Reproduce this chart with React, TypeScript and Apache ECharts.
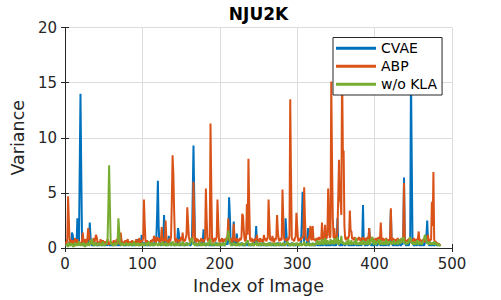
import React, { useEffect, useRef } from "react";
import * as echarts from "echarts";

const seriesNames = ["CVAE", "ABP", "w/o KLA"];
const xTicks = [0, 100, 200, 300, 400, 500];
const yTicks = [0, 5, 10, 15, 20];

// CVAE variance per image (index 1..485)
const cvae = [
  0.5,0.3,0.2,0.4,0.3,0.6,0.2,0.3,1.4,1.2,0.3,0.2,0.4,0.3,0.5,2.7,0.6,0.3,7.0,14.0,
  7.0,0.8,0.3,0.2,0.4,0.3,0.2,0.5,0.3,0.4,0.6,2.3,1.0,0.3,0.2,0.4,0.3,0.2,0.3,0.5,
  0.3,0.2,0.4,0.3,0.2,0.5,0.3,0.2,0.3,0.4,0.2,0.3,0.5,0.2,0.3,0.4,0.3,0.2,0.4,0.3,
  0.2,0.3,0.4,0.2,0.3,0.5,0.3,0.2,0.4,0.3,0.2,0.3,0.4,0.6,0.3,0.2,0.4,0.3,0.2,0.3,
  0.4,0.3,0.2,0.3,0.5,0.3,0.2,0.4,0.3,0.2,0.3,0.4,0.5,0.8,0.3,0.2,0.4,0.3,1.2,0.4,
  0.3,0.5,0.3,0.2,0.4,0.3,0.2,0.3,0.4,0.2,0.3,0.5,0.3,0.2,0.4,0.6,0.3,0.8,3.0,6.1,
  2.0,0.4,0.3,0.2,0.5,0.3,0.8,3.0,0.6,0.3,0.2,0.4,0.3,1.1,0.4,0.3,0.2,0.5,0.3,0.4,
  0.3,0.2,0.4,0.3,0.6,1.8,1.4,0.3,0.2,0.4,0.3,0.5,0.3,0.2,0.4,0.3,0.2,0.5,0.3,0.4,
  0.3,0.2,0.4,0.6,4.7,9.3,4.7,0.5,0.3,0.2,0.4,0.3,0.2,0.3,0.5,0.3,0.2,0.6,1.7,0.4,
  0.3,0.2,0.4,0.3,0.5,0.3,0.2,0.4,0.3,0.2,0.3,0.4,0.2,0.3,0.5,0.3,0.2,0.4,0.3,0.2,
  0.3,0.4,0.2,0.6,0.3,0.2,0.4,0.3,0.5,0.3,0.8,4.6,3.0,0.4,0.3,0.2,0.5,2.4,0.4,0.3,
  0.2,1.3,0.4,0.3,0.2,0.4,0.3,0.5,0.3,0.2,0.4,0.3,0.2,0.3,0.5,0.3,0.2,0.4,0.3,0.2,
  0.3,0.4,0.2,0.3,0.5,0.6,2.0,0.4,0.3,0.2,0.4,0.3,0.2,0.3,0.5,0.3,0.2,0.4,0.3,0.2,
  0.3,0.4,0.2,0.3,0.5,0.3,0.2,0.4,0.3,0.2,0.3,0.4,0.2,0.3,0.5,0.3,0.2,0.4,0.3,0.2,
  0.3,0.4,0.2,0.6,2.7,1.4,0.3,0.2,0.4,0.3,0.2,0.3,0.5,0.3,0.2,0.4,0.3,0.2,0.3,0.4,
  0.3,0.2,0.4,0.3,0.5,2.5,5.1,2.5,0.4,0.3,0.2,0.4,0.6,1.8,0.4,0.3,0.2,0.4,0.3,0.2,
  0.3,0.4,0.2,0.3,0.5,0.3,0.2,0.4,0.3,0.2,0.3,0.4,0.2,0.3,0.5,0.3,0.2,0.4,0.3,0.2,
  0.3,0.4,0.2,0.3,0.5,0.3,0.2,0.4,0.3,0.2,0.6,2.7,0.4,0.3,0.2,0.4,0.3,0.2,0.3,0.4,
  0.3,0.2,0.4,0.3,0.5,0.3,0.2,0.4,0.3,0.2,0.3,0.4,0.2,0.3,0.5,0.3,0.2,0.4,0.3,0.2,
  0.3,0.4,0.2,0.6,3.9,0.5,0.3,0.2,0.4,0.3,0.2,0.5,1.8,0.4,0.3,0.2,0.4,0.3,0.2,0.3,
  0.4,0.3,0.2,0.4,0.3,0.5,0.3,0.2,0.4,0.3,0.2,0.3,0.4,0.2,0.3,0.5,0.3,0.2,0.4,0.6,
  3.4,0.5,0.3,0.2,0.4,0.3,0.2,0.3,0.4,0.2,0.3,0.5,0.3,0.2,0.4,0.3,0.8,6.4,0.6,0.3,
  0.2,0.4,0.3,0.2,0.5,0.8,16.0,8.0,0.4,0.3,0.2,0.4,0.3,0.2,0.3,0.5,0.3,0.2,0.4,0.3,
  0.2,0.3,0.4,0.2,0.5,0.8,1.2,2.5,0.6,0.3,0.2,0.4,0.3,0.2,0.3,0.4,0.2,0.3,0.5,0.3,
  0.2,0.4,0.3,0.2,0.3,
];

// ABP variance per image
const abp = [
  0.6,0.3,0.9,4.7,2.5,0.4,0.8,0.5,0.3,0.7,0.4,0.6,0.9,0.3,0.5,0.8,0.4,0.6,0.3,0.5,
  0.4,0.7,1.4,0.5,0.3,0.8,0.6,0.4,0.9,1.8,1.3,0.5,0.3,0.7,0.4,0.6,0.9,0.5,0.8,1.2,
  1.0,0.5,0.3,0.6,0.4,0.8,0.3,0.5,0.7,0.4,0.3,0.6,0.5,0.3,0.8,0.4,0.3,0.5,0.6,0.4,
  0.3,0.5,0.7,0.4,0.3,0.6,0.8,0.4,1.2,0.5,0.3,1.4,0.7,0.4,0.6,0.3,0.5,0.7,0.4,0.6,
  0.8,0.4,0.3,0.6,0.5,0.3,0.7,0.4,0.6,0.3,0.5,0.8,0.4,0.3,0.6,0.9,0.4,0.5,0.7,0.6,
  0.9,4.4,2.2,0.6,0.4,0.7,0.5,0.3,0.6,0.4,0.7,0.5,0.8,0.6,1.1,0.9,0.4,0.7,1.0,0.8,
  0.6,0.9,0.5,0.8,1.9,0.7,0.5,0.9,0.6,2.5,0.8,0.5,0.7,0.4,0.9,0.6,1.0,4.2,8.4,6.7,
  3.4,0.8,0.5,0.9,0.6,0.7,0.4,0.8,0.6,1.0,0.7,1.4,0.5,0.8,0.6,0.9,1.2,3.7,2.3,1.0,
  0.7,0.5,0.9,0.6,0.8,6.0,2.9,0.7,0.5,0.9,0.6,0.8,0.4,0.7,0.5,0.9,0.6,0.8,0.5,0.7,
  0.9,5.4,2.7,0.8,0.6,0.9,0.7,11.3,5.6,0.8,0.5,0.7,0.9,0.6,0.8,1.0,4.4,2.2,0.7,0.5,
  0.8,0.6,0.9,0.5,0.7,0.8,0.6,0.9,0.7,1.2,2.7,0.8,0.6,0.9,0.7,0.5,0.8,2.2,0.9,0.6,
  0.7,0.9,0.5,0.8,0.6,0.9,0.7,1.0,3.1,2.9,1.6,0.8,0.6,0.9,4.0,1.2,8.1,4.0,0.8,0.6,
  0.9,0.7,0.5,0.8,0.6,0.9,0.7,1.2,0.6,0.8,0.5,0.9,0.7,0.6,0.8,0.5,1.2,0.7,0.9,0.6,
  0.8,0.9,4.4,2.4,0.7,0.9,0.6,1.1,0.8,0.5,0.9,0.7,1.0,3.0,1.5,0.8,0.6,0.9,0.7,0.8,
  5.3,2.7,0.9,0.7,0.8,0.6,0.9,0.7,0.8,1.1,13.5,6.7,0.9,0.7,0.8,0.6,0.9,1.0,3.2,2.0,
  0.8,0.6,0.9,0.7,0.8,1.0,0.9,1.2,5.5,2.7,0.9,0.7,0.8,0.6,0.9,1.1,2.0,0.8,0.7,2.0,
  0.9,0.7,0.8,0.6,0.9,0.7,0.8,1.0,0.7,0.9,0.8,2.3,0.9,0.7,1.0,2.1,0.8,0.9,1.2,5.4,
  2.7,0.9,1.1,15.1,8.0,2.7,0.9,1.8,0.8,1.0,0.9,1.5,4.6,8.0,4.4,4.2,3.0,16.5,8.8,8.8,
  2.0,0.9,0.7,1.0,0.8,0.9,1.1,3.4,1.6,1.5,0.8,0.9,0.7,1.0,0.8,0.6,0.9,0.7,0.8,1.0,
  0.8,0.6,0.9,0.7,1.0,0.8,0.7,0.9,0.6,0.8,1.0,0.7,1.8,0.9,0.6,0.8,0.7,0.9,0.6,0.8,
  0.7,0.9,0.6,0.8,1.0,0.7,0.9,2.3,0.8,0.6,0.9,0.7,0.8,0.6,0.9,0.7,0.5,0.8,0.6,0.9,
  3.6,0.8,0.6,0.9,0.7,0.5,0.8,0.6,0.7,0.9,0.6,0.8,0.5,0.7,0.9,0.6,1.0,5.9,0.8,0.6,
  0.7,0.5,0.8,0.6,0.9,0.7,0.5,0.8,0.6,0.7,0.9,0.5,0.8,0.6,0.7,0.9,1.5,0.6,0.8,0.5,
  0.7,0.6,0.8,0.5,0.9,0.6,0.7,0.8,1.2,0.6,0.5,0.8,0.7,4.2,2.0,6.9,0.8,0.5,0.6,0.4,
  0.5,0.3,0.4,0.3,0.2,
];

// w/o KLA variance per image
const woKla = [
  0.3,0.2,0.4,0.1,0.3,0.5,0.2,0.3,0.4,0.2,0.1,0.3,0.5,0.2,0.4,0.3,0.2,0.6,0.3,0.2,
  0.4,0.3,0.2,0.5,0.3,0.1,0.4,0.2,0.3,0.5,0.2,0.4,0.7,0.3,0.8,0.4,0.2,0.3,0.5,0.3,
  0.2,0.4,0.3,0.5,0.2,0.3,0.4,0.2,0.6,0.3,0.2,0.4,0.3,0.5,0.8,3.7,7.5,3.8,0.6,0.3,
  0.4,0.2,0.3,0.5,0.2,0.4,0.3,0.6,2.7,1.6,0.4,0.3,0.2,0.5,0.3,0.2,0.4,0.3,0.5,0.2,
  0.3,0.4,0.2,0.5,0.3,0.2,0.4,0.3,0.6,0.2,0.3,0.4,0.2,0.5,0.3,0.2,0.4,0.3,0.2,0.5,
  0.3,0.2,0.4,0.3,0.5,0.2,0.3,0.6,0.4,0.2,0.3,0.5,0.2,0.4,0.3,0.2,0.5,0.3,0.4,0.2,
  0.3,0.5,0.2,0.4,0.3,0.6,0.2,0.3,0.4,0.2,0.5,0.3,0.2,0.4,0.3,0.5,0.2,0.3,0.6,0.4,
  0.2,0.3,0.5,0.2,0.4,0.3,0.2,0.5,0.3,0.4,0.2,0.6,0.3,0.2,0.4,0.3,0.5,0.2,0.3,0.4,
  0.3,0.5,0.8,0.9,0.6,0.3,0.4,0.2,0.5,0.3,0.2,0.4,0.3,0.6,0.2,0.3,0.4,0.2,0.5,0.3,
  0.2,0.4,0.3,0.5,0.2,0.3,0.8,0.6,0.3,0.2,0.4,0.3,0.5,0.2,0.3,0.4,0.2,0.5,0.3,0.2,
  0.4,0.3,0.2,0.5,0.3,0.2,0.4,0.6,0.9,1.0,1.6,1.0,0.5,0.3,0.2,0.4,0.3,0.5,0.2,0.3,
  0.4,0.2,0.3,0.5,0.2,0.4,0.3,0.2,0.5,0.3,0.4,0.2,0.3,0.5,0.6,0.7,0.4,0.2,0.3,0.4,
  0.2,0.5,0.3,0.2,0.4,0.3,0.6,0.2,0.3,0.4,0.2,0.5,0.3,0.2,0.4,0.3,0.5,0.2,0.3,0.4,
  0.2,0.3,0.5,0.2,0.4,0.3,0.2,0.5,0.3,0.4,0.2,0.3,0.5,0.2,0.4,0.3,0.2,0.5,0.3,0.4,
  0.2,0.5,0.3,0.2,0.4,0.3,0.6,0.5,0.3,0.2,0.4,0.3,0.2,0.5,0.3,0.2,0.4,0.3,0.5,0.2,
  0.3,0.4,0.2,0.5,0.3,0.2,0.4,0.3,0.6,0.2,0.3,0.4,0.2,0.5,0.3,0.2,0.4,0.3,0.2,0.5,
  0.3,0.2,0.4,0.3,0.5,0.7,0.3,0.4,0.6,0.3,0.5,0.8,0.4,0.3,0.6,0.9,0.5,0.3,0.7,0.4,
  0.6,0.3,0.8,0.5,0.4,0.7,0.3,0.9,0.5,0.4,0.6,1.0,0.4,0.3,0.7,0.5,1.1,0.4,0.6,0.3,
  0.5,0.3,0.4,0.6,0.3,0.8,0.5,0.3,0.4,0.7,0.3,0.5,0.4,0.6,0.3,0.9,0.4,0.3,0.5,0.4,
  0.3,0.6,0.4,0.3,0.7,0.5,0.3,0.4,0.6,0.3,0.5,0.8,0.4,0.3,0.6,0.9,1.0,0.5,0.3,0.7,
  0.4,0.3,0.6,0.5,0.8,0.4,0.3,0.7,0.5,0.3,0.4,0.6,0.3,0.5,0.8,0.4,0.3,0.6,0.5,0.4,
  0.6,0.3,0.5,0.4,0.7,0.3,0.5,0.4,0.6,0.3,0.8,0.5,0.4,0.6,0.9,0.5,1.0,0.7,0.4,0.5,
  0.3,0.6,0.4,0.5,0.8,1.0,0.7,0.4,0.5,0.3,0.6,0.4,0.3,0.5,0.7,0.4,0.3,0.6,0.5,0.4,
  0.3,0.5,0.7,0.9,1.2,1.0,0.6,0.4,0.5,0.3,0.6,0.4,0.3,0.5,0.4,0.3,0.6,0.4,0.3,0.5,
  0.3,0.2,0.4,0.2,0.3,
];

const colors = ["#0072BD", "#D95319", "#77AC30"];
const FONT = "DejaVu Sans";
const AX = "#262626";

export default function App() {
  const ref = useRef<HTMLDivElement>(null);
  useEffect(() => {
    document.body.style.margin = "0";
    if (!ref.current) return;
    const chart = echarts.init(ref.current, undefined, { renderer: "svg" });
    const toPairs = (arr: number[]) => arr.map((v, i) => [i + 1, v]);
    const all = [cvae, abp, woKla];
    const axisCommon = {
      axisLine: { show: true, lineStyle: { color: AX, width: 1 } },
      axisTick: { show: true, inside: true, length: 4, lineStyle: { color: AX } },
    };
    chart.setOption({
      animation: false,
      backgroundColor: "#ffffff",
      textStyle: { fontFamily: FONT },
      graphic: [
        {
          type: "text",
          x: 258.5,
          y: 14,
          style: {
            text: "NJU2K",
            align: "center",
            verticalAlign: "middle",
            fontSize: 17,
            fontWeight: "bold",
            fontFamily: FONT,
            fill: "#000000",
          },
        },
      ],
      grid: { left: 65, right: 49, top: 27.5, bottom: 49, containLabel: false },
      legend: {
        data: seriesNames,
        orient: "vertical",
        left: 333,
        top: 37.5,
        icon: "rect",
        itemWidth: 40,
        itemHeight: 3,
        itemGap: 3.5,
        padding: [3.5, 5, 3.5, 3],
        backgroundColor: "#ffffff",
        borderColor: AX,
        borderWidth: 1,
        borderRadius: 0,
        textStyle: { fontFamily: FONT, fontSize: 14, color: "#000000", lineHeight: 14.5 },
      },
      xAxis: [
        {
          type: "value",
          min: 0,
          max: 500,
          interval: 100,
          position: "bottom",
          ...axisCommon,
          axisLabel: { color: AX, fontSize: 15, margin: 8, fontFamily: FONT },
          splitLine: { show: true, lineStyle: { color: "#dcdcdc", width: 1 } },
          name: "Index of Image",
          nameLocation: "middle",
          nameGap: 29,
          nameTextStyle: { color: AX, fontSize: 17.5, fontFamily: FONT },
        },
        {
          type: "value",
          min: 0,
          max: 500,
          interval: 100,
          position: "top",
          ...axisCommon,
          axisLabel: { show: false },
          splitLine: { show: false },
        },
      ],
      yAxis: [
        {
          type: "value",
          min: 0,
          max: 20,
          interval: 5,
          position: "left",
          ...axisCommon,
          axisLabel: { color: AX, fontSize: 15, margin: 8, fontFamily: FONT },
          splitLine: { show: true, lineStyle: { color: "#dcdcdc", width: 1 } },
          name: "Variance",
          nameLocation: "middle",
          nameGap: 28,
          nameTextStyle: { color: AX, fontSize: 17.5, fontFamily: FONT },
        },
        {
          type: "value",
          min: 0,
          max: 20,
          interval: 5,
          position: "right",
          ...axisCommon,
          axisLabel: { show: false },
          splitLine: { show: false },
        },
      ],
      series: all.map((arr, k) => ({
        name: seriesNames[k],
        type: "line",
        data: toPairs(arr),
        xAxisIndex: 0,
        yAxisIndex: 0,
        showSymbol: false,
        symbol: "none",
        lineStyle: { color: colors[k], width: 2, join: "bevel" },
        itemStyle: { color: colors[k] },
        emphasis: { disabled: true },
      })),
    });
    return () => chart.dispose();
  }, []);
  return <div ref={ref} style={{ width: 501, height: 300 }} />;
}
